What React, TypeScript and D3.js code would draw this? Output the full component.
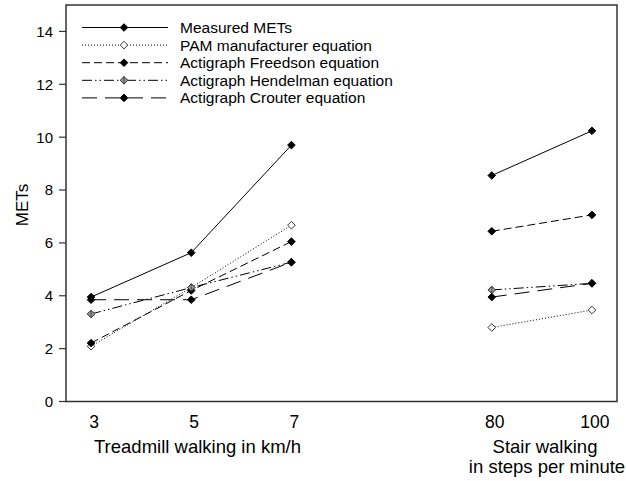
import React from "react";
import * as d3 from "d3";

const categories = ["3", "5", "7", "80", "100"];
const categoryPositions = [0, 1, 2, 4, 5];
const groups = [[0, 1, 2], [3, 4]];
const yTicks = [0, 2, 4, 6, 8, 10, 12, 14];

const measured = [3.95, 5.63, 9.7, 8.55, 10.24];
const pam = [2.09, 4.31, 6.67, 2.8, 3.46];
const freedson = [2.21, 4.2, 6.05, 6.44, 7.06];
const hendelman = [3.31, 4.31, 5.27, 4.22, 4.47];
const crouter = [3.85, 3.85, 5.27, 3.95, 4.47];

const seriesNames = [
  "Measured METs",
  "PAM manufacturer equation",
  "Actigraph Freedson equation",
  "Actigraph Hendelman equation",
  "Actigraph Crouter equation",
];

const styles = [
  { dash: "none", fill: "#000", stroke: "#000" },
  { dash: "1,2", fill: "#fff", stroke: "#333" },
  { dash: "8,4", fill: "#000", stroke: "#000" },
  { dash: "10,3,1.5,3,1.5,3", fill: "#999", stroke: "#333" },
  { dash: "15,8", fill: "#000", stroke: "#000" },
];

const seriesValues = [measured, pam, freedson, hendelman, crouter];

const FONT = "Arial, 'Liberation Sans', sans-serif";

function Diamond({ x, y, fill, stroke, cross }: any) {
  const r = 3.8;
  return (
    <g>
      <path
        d={`M${x},${y - r}L${x + r},${y}L${x},${y + r}L${x - r},${y}Z`}
        fill={fill}
        stroke={stroke}
        strokeWidth={1}
      />
      {cross ? (
        <line x1={x} x2={x} y1={y - r} y2={y + r} stroke={stroke} strokeWidth={0.8} />
      ) : null}
    </g>
  );
}

export default function App() {
  const left = 66, right = 617, top = 5, bottom = 401.5;
  const x = d3.scaleLinear().domain([-0.25, 5.25]).range([left, right]);
  const y = d3.scaleLinear().domain([0, 15]).range([bottom, top]);
  const line = d3
    .line<[number, number]>()
    .x((d) => x(d[0]))
    .y((d) => y(d[1]));

  const legendY0 = 27.5;
  const legendStep = 17.6;

  return (
    <svg
      width={626}
      height={481}
      style={{ position: "absolute", left: 0, top: 0, background: "#fff" }}
      fontFamily={FONT}
    >
      <rect x={0} y={0} width={626} height={481} fill="#fff" />
      {seriesValues.map((vals, si) =>
        groups.map((g, gi) => (
          <path
            key={`l${si}-${gi}`}
            d={line(g.map((i) => [categoryPositions[i], vals[i]]))!}
            fill="none"
            stroke="#000"
            strokeWidth={1}
            strokeDasharray={styles[si].dash}
          />
        ))
      )}
      {seriesValues.map((vals, si) =>
        vals.map((v, i) => (
          <Diamond
            key={`m${si}-${i}`}
            x={x(categoryPositions[i])}
            y={y(v)}
            fill={styles[si].fill}
            stroke={styles[si].stroke}
            cross={si === 3}
          />
        ))
      )}
      <rect
        x={left}
        y={top}
        width={right - left}
        height={bottom - top}
        fill="none"
        stroke="#333"
        strokeWidth={1.5}
      />
      {yTicks.map((t) => (
        <g key={`yt${t}`}>
          <line x1={left - 7} x2={left} y1={y(t)} y2={y(t)} stroke="#333" strokeWidth={1.2} />
          <text x={53} y={y(t)} dy="0.36em" textAnchor="end" fontSize={15}>
            {t}
          </text>
        </g>
      ))}
      <text
        transform={`translate(28,205) rotate(-90)`}
        textAnchor="middle"
        fontSize={17}
      >
        METs
      </text>
      {categories.map((c, i) => (
        <text
          key={`xl${c}`}
          x={x(categoryPositions[i]) + 3}
          y={427.5}
          textAnchor="middle"
          fontSize={17.5}
        >
          {c}
        </text>
      ))}
      <text x={197.5} y={453} textAnchor="middle" fontSize={18.5}>
        Treadmill walking in km/h
      </text>
      <text x={545} y={453} textAnchor="middle" fontSize={18.5}>
        Stair walking
      </text>
      <text x={547} y={473} textAnchor="middle" fontSize={18.5}>
        in steps per minute
      </text>
      {seriesNames.map((name, si) => {
        const ly = legendY0 + si * legendStep;
        return (
          <g key={`lg${si}`}>
            <line
              x1={82}
              x2={168}
              y1={ly}
              y2={ly}
              stroke="#000"
              strokeWidth={1}
              strokeDasharray={styles[si].dash}
            />
            <Diamond
              x={124}
              y={ly}
              fill={styles[si].fill}
              stroke={styles[si].stroke}
              cross={si === 3}
            />
            <text x={180} y={ly} dy="0.36em" fontSize={15.5}>
              {name}
            </text>
          </g>
        );
      })}
    </svg>
  );
}
